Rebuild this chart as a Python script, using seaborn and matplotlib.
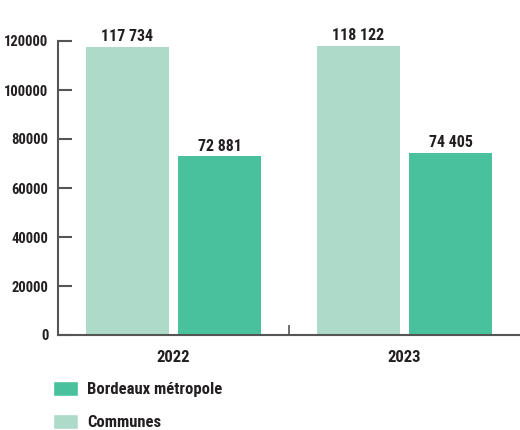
import matplotlib
matplotlib.use("Agg")
import matplotlib.pyplot as plt
from matplotlib.patches import Patch
import seaborn as sns
import pandas as pd

years = ["2022", "2023"]
groups = ["Communes", "Bordeaux métropole"]
communes = [117734, 118122]
metropole = [72881, 74405]
y_ticks = [0, 20000, 40000, 60000, 80000, 100000, 120000]

colors = {"Communes": "#aedbc9", "Bordeaux métropole": "#49c19c"}
text_color = "#231f20"
axis_color = "#555555"

df = pd.DataFrame({
    "year": years * 2,
    "group": ["Communes"] * 2 + ["Bordeaux métropole"] * 2,
    "value": communes + metropole,
})

sns.set_theme(style="white")
plt.rcParams["font.family"] = ["Roboto Condensed", "Roboto", "DejaVu Sans"]
plt.rcParams["font.weight"] = "bold"

fig = plt.figure(figsize=(5.2, 4.3), dpi=100)
ax = fig.add_axes([58 / 520, 1 - 335 / 430, 462 / 520, 294 / 430])

sns.barplot(data=df, x="year", y="value", hue="group", order=years,
            hue_order=groups, palette=colors, width=0.8, gap=0.1,
            saturation=1, linewidth=0, legend=False, ax=ax)

ax.set_xlim(-0.5, 1.5)
ax.set_ylim(0, 120000)

for cont in ax.containers:
    labels = [f"{int(v):,}".replace(",", " ") for v in cont.datavalues]
    ax.bar_label(cont, labels=labels, padding=2, fontsize=11.5,
                 fontweight="bold", color=text_color)

ax.set_yticks(y_ticks)
ax.set_yticklabels([str(t) for t in y_ticks])
ax.tick_params(axis="y", direction="in", length=10, width=1.5,
               color=axis_color, labelsize=10.5, labelcolor=text_color, pad=7,
               left=True)
ax.tick_params(axis="x", length=0, labelsize=12, labelcolor=text_color, pad=11)
ax.set_xticks([0.5], minor=True)
ax.tick_params(axis="x", which="minor", direction="in", length=7, width=1.2,
               color=axis_color, bottom=True)

for lab in ax.get_yticklabels() + ax.get_xticklabels():
    lab.set_fontweight("bold")

ax.set_xlabel("")
ax.set_ylabel("")
for side in ["top", "right"]:
    ax.spines[side].set_visible(False)
for side in ["left", "bottom"]:
    ax.spines[side].set_color(axis_color)
    ax.spines[side].set_linewidth(1.5)

handles = [Patch(facecolor=colors["Bordeaux métropole"], label="Bordeaux métropole"),
           Patch(facecolor=colors["Communes"], label="Communes")]
leg = fig.legend(handles=handles, loc="upper left",
                 bbox_to_anchor=(53 / 520, 1 - 381 / 430), frameon=False,
                 handlelength=1.5, handleheight=1.0, labelspacing=1.02,
                 handletextpad=0.55, borderaxespad=0, borderpad=0,
                 prop={"size": 12, "weight": "bold"})
for t in leg.get_texts():
    t.set_color(text_color)

fig.savefig("out.png", dpi=100)
